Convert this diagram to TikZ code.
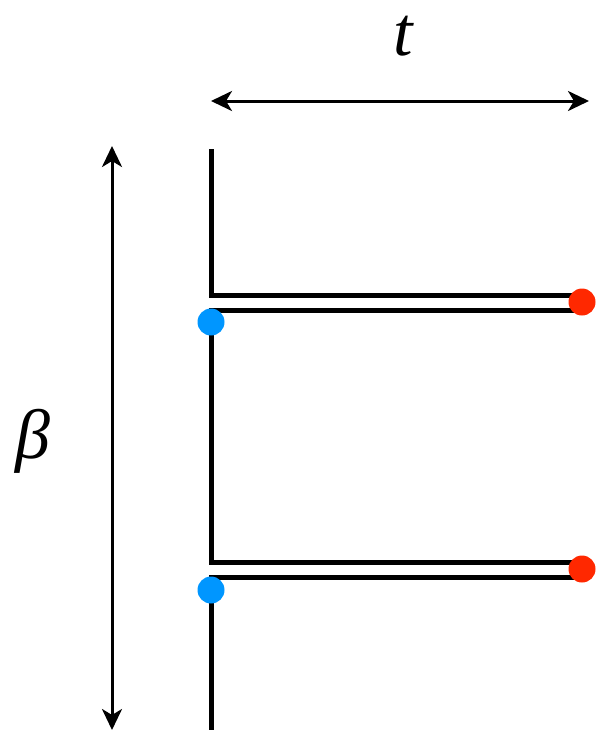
\documentclass[tikz,border=0pt]{standalone}
\usepackage{fontspec}
\setmainfont{Liberation Serif}
\usetikzlibrary{arrows.meta}
\definecolor{dotblue}{RGB}{0,150,255}
\definecolor{dotred}{RGB}{255,40,0}
\begin{document}
\begin{tikzpicture}[x=1pt,y=-1pt,
  wire/.style={line width=5pt,line join=miter,line cap=butt},
  dimarrow/.style={line width=3pt,{Stealth[length=21pt,width=20pt,inset=6pt]}-{Stealth[length=21pt,width=20pt,inset=6pt]}},
  bluedot/.style={circle,fill=dotblue,inner sep=0pt,minimum size=27pt},
  reddot/.style={circle,fill=dotred,inner sep=0pt,minimum size=27pt},
  lbl/.style={font=\fontsize{70}{80}\selectfont\itshape,inner sep=0pt}]
\useasboundingbox (0,0) rectangle (611,753);
% wire points
\coordinate (top) at (211,149);
\coordinate (c1) at (211,295);
\coordinate (r1a) at (582,295);
\coordinate (r1b) at (582,310);
\coordinate (c2) at (211,310);
\coordinate (c3) at (211,562);
\coordinate (r2a) at (582,562);
\coordinate (r2b) at (582,577);
\coordinate (c4) at (211,577);
\coordinate (bot) at (211,730);
\draw[wire] (top) -- (c1) -- (r1a);
\draw[wire] (r1b) -- (c2) -- (c3) -- (r2a);
\draw[wire] (r2b) -- (c4) -- (bot);
% dots
\node[bluedot] (b1) at (211,322) {};
\node[bluedot] (b2) at (211,590) {};
\node[reddot] (d1) at (582,302) {};
\node[reddot] (d2) at (582,569) {};
% dimension arrows
\coordinate (hl) at (211,101);
\coordinate (hr) at (589,101);
\coordinate (vt) at (112,146);
\coordinate (vb) at (112,730);
\draw[dimarrow] (hl) -- (hr);
\draw[dimarrow] (vt) -- (vb);
% labels
\node[lbl] (t) at (403,36) {t};
\node[lbl] (beta) at (33,441) {β};
\end{tikzpicture}
\end{document}
